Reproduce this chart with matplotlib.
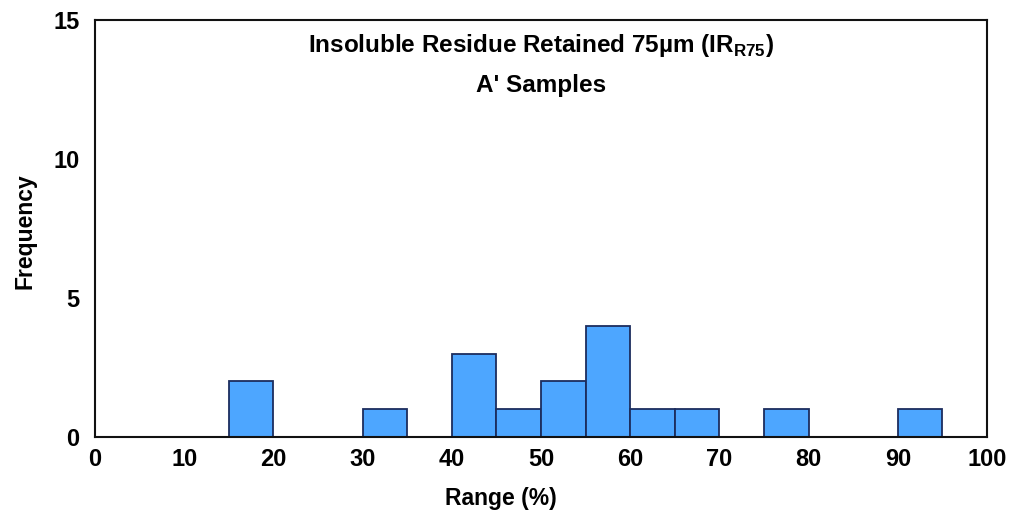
import matplotlib
matplotlib.use("Agg")
import matplotlib.pyplot as plt

# histogram bins (5 % wide) and counts per bin
bin_edges = [0, 5, 10, 15, 20, 25, 30, 35, 40, 45, 50, 55, 60, 65, 70, 75, 80, 85, 90, 95, 100]
counts = [0, 0, 0, 2, 0, 0, 1, 0, 3, 1, 2, 4, 1, 1, 0, 1, 0, 0, 1, 0]
x_ticks = [0, 10, 20, 30, 40, 50, 60, 70, 80, 90, 100]
y_ticks = [0, 5, 10, 15]

plt.rcParams["font.family"] = ["Liberation Sans", "DejaVu Sans"]
plt.rcParams["font.weight"] = "bold"
plt.rcParams["mathtext.fontset"] = "custom"
plt.rcParams["mathtext.rm"] = "Liberation Sans:bold"

fig = plt.figure(figsize=(10.13, 5.16), dpi=100)
ax = fig.add_axes([0.0938, 0.1531, 0.8805, 0.8081])

lefts = bin_edges[:-1]
widths = [b - a for a, b in zip(bin_edges[:-1], bin_edges[1:])]
ax.bar(lefts, counts, width=widths, align="edge",
       color="#4da6ff", edgecolor="#1c2d5e", linewidth=1.3)

ax.set_xlim(0, 100)
ax.set_ylim(0, 15)
ax.set_xticks(x_ticks)
ax.set_yticks(y_ticks)
ax.tick_params(axis="both", length=0, labelsize=17)
ax.tick_params(axis="x", pad=8)
ax.tick_params(axis="y", pad=11)
for lbl in ax.get_xticklabels() + ax.get_yticklabels():
    lbl.set_fontweight("bold")
for sp in ax.spines.values():
    sp.set_linewidth(1.5)
    sp.set_color("#111111")

ax.text(0.5, 0.94, r"Insoluble Residue Retained 75µm (IR$_{\rm R75}$)",
        transform=ax.transAxes, ha="center", va="center",
        fontsize=17.5, fontweight="bold")
ax.text(0.5, 0.842, "A' Samples", transform=ax.transAxes,
        ha="center", va="center", fontsize=17.5, fontweight="bold")

fig.text(501 / 1013, 1 - 499 / 516, "Range (%)", ha="center", va="center",
         fontsize=16.5, fontweight="bold")
fig.text(25 / 1013, 1 - 231 / 516, "Frequency", ha="center", va="center",
         rotation=90, fontsize=16.5, fontweight="bold")

fig.savefig("out.png", dpi=100)
